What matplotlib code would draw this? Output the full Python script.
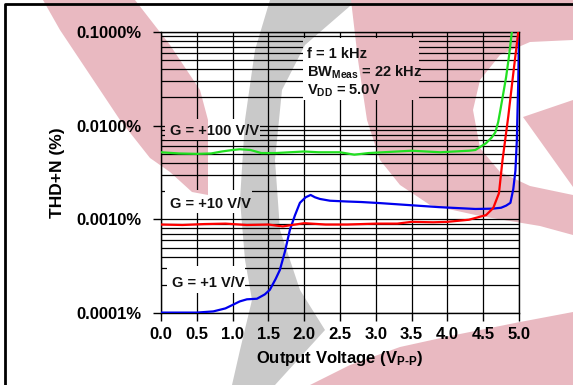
import matplotlib.pyplot as plt
from matplotlib.patches import Polygon, Rectangle
from matplotlib.lines import Line2D
from matplotlib.ticker import LogLocator, NullFormatter

plt.rcParams['font.family'] = ['Liberation Sans', 'DejaVu Sans']
plt.rcParams['font.weight'] = 'bold'
plt.rcParams['mathtext.fontset'] = 'custom'
plt.rcParams['mathtext.rm'] = 'Liberation Sans:bold'
plt.rcParams['mathtext.bf'] = 'Liberation Sans:bold'
plt.rcParams['mathtext.it'] = 'Liberation Sans:bold'

# THD+N (%) vs output voltage (Vp-p)
v_g100 = [0.0, 0.25, 0.5, 0.7, 0.85, 1.0, 1.1, 1.25, 1.4, 1.6, 1.8, 2.0, 2.2, 2.5,
          2.7, 2.9, 3.1, 3.3, 3.5, 3.7, 3.9, 4.1, 4.3, 4.39, 4.54, 4.62, 4.67, 4.71,
          4.74, 4.78, 4.82, 4.86, 4.90]
thd_g100 = [0.0052, 0.00505, 0.0050, 0.00505, 0.0053, 0.0055, 0.0056, 0.0055, 0.0051,
            0.0051, 0.0052, 0.0053, 0.0052, 0.0052, 0.0049, 0.0051, 0.0052, 0.0053,
            0.0054, 0.0053, 0.0052, 0.0053, 0.0054, 0.0055, 0.0065, 0.0075, 0.0085,
            0.011, 0.0147, 0.022, 0.033, 0.055, 0.1]

v_g10 = [0.0, 0.3, 0.6, 0.9, 1.2, 1.5, 1.7, 2.0, 2.3, 2.6, 3.0, 3.3, 3.5, 3.8, 4.0,
         4.3, 4.54, 4.64, 4.72, 4.77, 4.85, 4.92, 4.99]
thd_g10 = [0.00088, 0.00087, 0.00089, 0.0009, 0.00087, 0.00088, 0.00084, 0.00091,
           0.00088, 0.00088, 0.0009, 0.0009, 0.00094, 0.00093, 0.00094, 0.00099,
           0.00111, 0.00132, 0.0019, 0.0043, 0.0125, 0.036, 0.1]

v_g1 = [0.0, 0.5, 0.73, 0.9, 1.0, 1.1, 1.2, 1.34, 1.45, 1.52, 1.6, 1.66, 1.73, 1.8,
        1.87, 1.94, 2.02, 2.09, 2.15, 2.22, 2.36, 2.6, 2.8, 3.06, 3.4, 3.88, 4.39,
        4.63, 4.75, 4.82, 4.88, 4.92, 4.95, 4.97, 4.98, 4.99, 5.0]
thd_g1 = [0.000101, 0.000101, 0.000104, 0.000112, 0.000122, 0.000133, 0.00014,
          0.000142, 0.000158, 0.000177, 0.00023, 0.000288, 0.00045, 0.00077, 0.0011,
          0.0015, 0.00172, 0.00182, 0.00172, 0.00165, 0.00158, 0.00155, 0.00153,
          0.00149, 0.00143, 0.00135, 0.00129, 0.0013, 0.00133, 0.0014, 0.0015,
          0.0021, 0.0033, 0.007, 0.015, 0.03, 0.1]

x_ticks = [0.0, 0.5, 1.0, 1.5, 2.0, 2.5, 3.0, 3.5, 4.0, 4.5, 5.0]
y_ticks = [0.0001, 0.001, 0.01, 0.1]
y_labels = ['0.0001%', '0.0010%', '0.0100%', '0.1000%']

W, H = 573, 385
PINK = '#e9b9c1'
GREY = '#c9c9c9'


def px(x, y):
    return (x / W, 1 - y / H)


# background logo watermark, in picture pixels
shapes = [
    (GREY, [(270, 0), (255, 50), (245, 120), (240, 200), (245, 260), (252, 300),
            (240, 350), (232, 385), (275, 385), (325, 330), (300, 290), (280, 230),
            (275, 160), (282, 90), (305, 45), (357, 0)]),
    (PINK, [(43, 0), (135, 0), (170, 45), (200, 90), (208, 120), (208, 195),
            (192, 192), (170, 172), (150, 158), (120, 120), (90, 75), (60, 30)]),
    (PINK, [(351, 0), (573, 0), (573, 235), (540, 226), (480, 216), (430, 205),
            (400, 185), (380, 160), (367, 120), (358, 60)]),
    ('white', [(473, 110), (480, 80), (500, 55), (530, 42), (573, 40), (573, 100),
               (523, 117), (573, 187), (573, 195), (530, 186), (500, 172), (480, 148)]),
    (PINK, [(310, 385), (350, 365), (400, 347), (450, 336), (520, 322), (573, 312),
            (573, 385)]),
]

fig = plt.figure(figsize=(5.73, 3.85), dpi=100)
for col, pts in shapes:
    fig.add_artist(Polygon([px(*p) for p in pts], closed=True, facecolor=col,
                           edgecolor='none', transform=fig.transFigure, zorder=-5))

ax = fig.add_axes([161 / W, 1 - 313 / H, 358 / W, 281 / H])
ax.set_facecolor('none')

ax.plot(v_g100, thd_g100, color='#22e022', lw=1.6, zorder=3)
ax.plot(v_g1, thd_g1, color='#0000ee', lw=1.6, zorder=3)
ax.plot(v_g10, thd_g10, color='#ff0000', lw=1.6, zorder=3)

ax.set_yscale('log')
ax.set_xlim(0, 5)
ax.set_ylim(1e-4, 1e-1)
ax.set_xticks(x_ticks)
ax.set_xticklabels([f'{t:.1f}' for t in x_ticks])
ax.set_yticks(y_ticks)
ax.set_yticklabels(y_labels)
ax.yaxis.set_minor_locator(LogLocator(base=10, subs=range(2, 10)))
ax.yaxis.set_minor_formatter(NullFormatter())
ax.tick_params(axis='both', which='major', labelsize=12, width=1, length=6, color='black')
ax.tick_params(axis='y', which='major', pad=8)
ax.tick_params(axis='x', which='major', pad=4)
ax.tick_params(axis='y', which='minor', length=0)
ax.set_axisbelow(True)
ax.grid(True, which='both', axis='y', color='black', lw=0.9)
ax.grid(True, which='major', axis='x', color='black', lw=0.9)
for s in ax.spines.values():
    s.set_color('black')
    s.set_linewidth(1)

ax.set_ylabel('THD+N (%)', fontsize=12.5, fontweight='bold', labelpad=8)
ax.set_xlabel(r'Output Voltage (V$_{\mathrm{P\text{-}P}}$)', fontsize=12,
              fontweight='bold', labelpad=5)


def ax_pt(x, y):
    return ((x - 161) / 358, (313 - y) / 281)


# white boxes behind the labels, with the watermark showing through
boxes = [(165, 119, 260, 140), (165, 190, 252, 213), (167, 266, 245, 293),
         (303, 38, 419, 100)]
for x0, y0, x1, y1 in boxes:
    a0 = ax_pt(x0, y1)
    a1 = ax_pt(x1, y0)
    rect = Rectangle(a0, a1[0] - a0[0], a1[1] - a0[1], transform=ax.transAxes,
                     facecolor='white', edgecolor='none', zorder=1)
    ax.add_patch(rect)
    for col, pts in shapes:
        p = Polygon([px(*q) for q in pts], closed=True, facecolor=col,
                    edgecolor='none', transform=fig.transFigure, zorder=1.2)
        ax.add_patch(p)
        p.set_clip_path(rect)

lab = dict(transform=ax.transAxes, fontsize=10.5, fontweight='bold', va='baseline',
           ha='left', zorder=4, color='#111111')
ax.text(*ax_pt(170, 135), 'G = +100 V/V', **lab)
ax.text(*ax_pt(170, 208), 'G = +10 V/V', **lab)
ax.text(*ax_pt(172, 287), 'G = +1 V/V', **lab)
ax.text(*ax_pt(307, 58), 'f = 1 kHz', **lab)
ax.text(*ax_pt(307, 77), r'BW$_{\mathrm{Meas}}$ = 22 kHz', **lab)
ax.text(*ax_pt(307, 95), r'V$_{\mathrm{DD}}$ = 5.0V', **lab)

# frame of the picture
fig.add_artist(Line2D([px(5, 385)[0], px(5, 4)[0], 1.0], [px(5, 385)[1], px(5, 4)[1], px(5, 4)[1]],
                      transform=fig.transFigure, color='black', lw=2, zorder=10))

fig.savefig('out.png', dpi=100)
